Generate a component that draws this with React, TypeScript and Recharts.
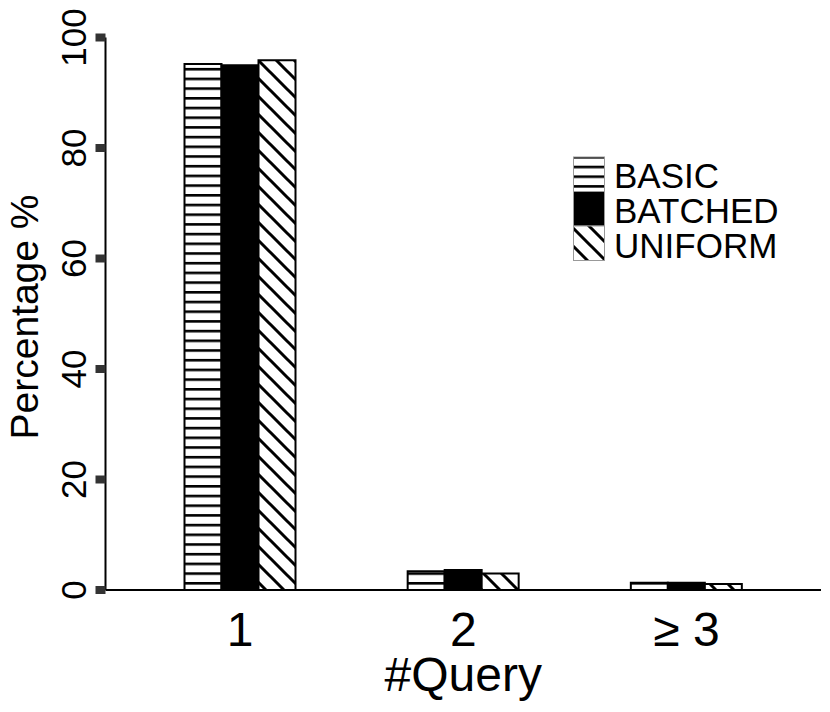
import React from 'react';
import { BarChart, Bar, XAxis, YAxis, Legend } from 'recharts';

const categories = ['1', '2', '≥ 3'];
const basicValues = [95.2, 3.4, 1.3];
const batchedValues = [95.0, 3.6, 1.3];
const uniformValues = [95.9, 3.0, 1.1];
const yTicks = [0, 20, 40, 60, 80, 100];
const seriesNames = ['BASIC', 'BATCHED', 'UNIFORM'];

const data = categories.map((c, i) => ({
  cat: c,
  basic: basicValues[i],
  batched: batchedValues[i],
  uniform: uniformValues[i],
}));

const FONT = 'Liberation Sans, Arial, Helvetica, sans-serif';

const Patterns = ({ prefix }: { prefix: string }) => (
  <defs>
    <pattern id={`${prefix}-hstripe`} patternUnits="userSpaceOnUse" width="10" height="9.7">
      <rect x="0" y="0" width="10" height="9.7" fill="#fff" />
      <rect x="0" y="0" width="10" height="2.6" fill="#000" />
    </pattern>
    <pattern id={`${prefix}-diag`} patternUnits="userSpaceOnUse" width="18" height="18">
      <rect x="0" y="0" width="18" height="18" fill="#fff" />
      <path d="M0,0 L18,18 M-4.5,13.5 L4.5,22.5 M13.5,-4.5 L22.5,4.5" stroke="#000" strokeWidth="3" />
    </pattern>
  </defs>
);

const YTick = (props: any) => {
  const { x, y, payload } = props;
  return (
    <text
      transform={`translate(${x},${y}) rotate(-90)`}
      textAnchor="middle"
      fontSize={35}
      fontFamily={FONT}
      fill="#000"
    >
      {payload.value}
    </text>
  );
};

const XTick = (props: any) => {
  const { x, y, payload } = props;
  return (
    <text x={x} y={y + 56} textAnchor="middle" fontSize={48} fontFamily={FONT} fill="#000">
      {payload.value}
    </text>
  );
};

const LegendContent = () => {
  const fills = ['url(#lg-hstripe)', '#000', 'url(#lg-diag)'];
  return (
    <svg width={220} height={122} style={{ display: 'block', overflow: 'visible' }}>
      <Patterns prefix="lg" />
      {seriesNames.map((name, i) => (
        <g key={name}>
          <rect x={0.5} y={1 + i * 34.5} width={31} height={34.5} fill={fills[i]} stroke="#999" strokeWidth={1} />
          <text x={41} y={32 + i * 35} fontSize={35} fontFamily={FONT} fill="#000">
            {name}
          </text>
        </g>
      ))}
    </svg>
  );
};

export default function App() {
  return (
    <div style={{ position: 'absolute', left: 0, top: 0, background: '#fff' }}>
      <BarChart
        width={830}
        height={712}
        data={data}
        margin={{ top: 37.5, right: 9, bottom: 12, left: 45.5 }}
        barGap={0}
        barSize={37}
      >
        <Patterns prefix="ch" />
        <XAxis
          dataKey="cat"
          height={110}
          axisLine={{ stroke: '#000', strokeWidth: 2 }}
          tickLine={false}
          tickSize={0}
          tickMargin={0}
          tick={<XTick />}
          padding={{ left: 23, right: 23 }}
          interval={0}
          label={{
            content: (p: any) => {
              const vb = p.viewBox || {};
              return (
                <text
                  x={vb.x + vb.width / 2}
                  y={691}
                  textAnchor="middle"
                  fontSize={48}
                  fontFamily={FONT}
                  fill="#000"
                >
                  #Query
                </text>
              );
            },
          }}
        />
        <YAxis
          width={60}
          domain={[0, 100]}
          ticks={yTicks}
          interval={0}
          axisLine={{ stroke: '#000', strokeWidth: 2 }}
          tickLine={{ stroke: '#333', strokeWidth: 8 }}
          tickSize={10}
          tickMargin={10}
          tick={<YTick />}
          label={{
            content: () => (
              <text
                transform="translate(38,317) rotate(-90)"
                textAnchor="middle"
                fontSize={39}
                fontFamily={FONT}
                fill="#000"
              >
                Percentage %
              </text>
            ),
          }}
        />
        <Legend
          layout="vertical"
          align="center"
          verticalAlign="middle"
          wrapperStyle={{ position: 'absolute', left: 573, top: 156, width: 220, height: 122 }}
          content={<LegendContent />}
        />
        <Bar dataKey="basic" name="BASIC" fill="url(#ch-hstripe)" stroke="#000" strokeWidth={2} isAnimationActive={false} />
        <Bar dataKey="batched" name="BATCHED" fill="#000" stroke="#000" strokeWidth={2} isAnimationActive={false} />
        <Bar dataKey="uniform" name="UNIFORM" fill="url(#ch-diag)" stroke="#000" strokeWidth={2} isAnimationActive={false} />
      </BarChart>
    </div>
  );
}
